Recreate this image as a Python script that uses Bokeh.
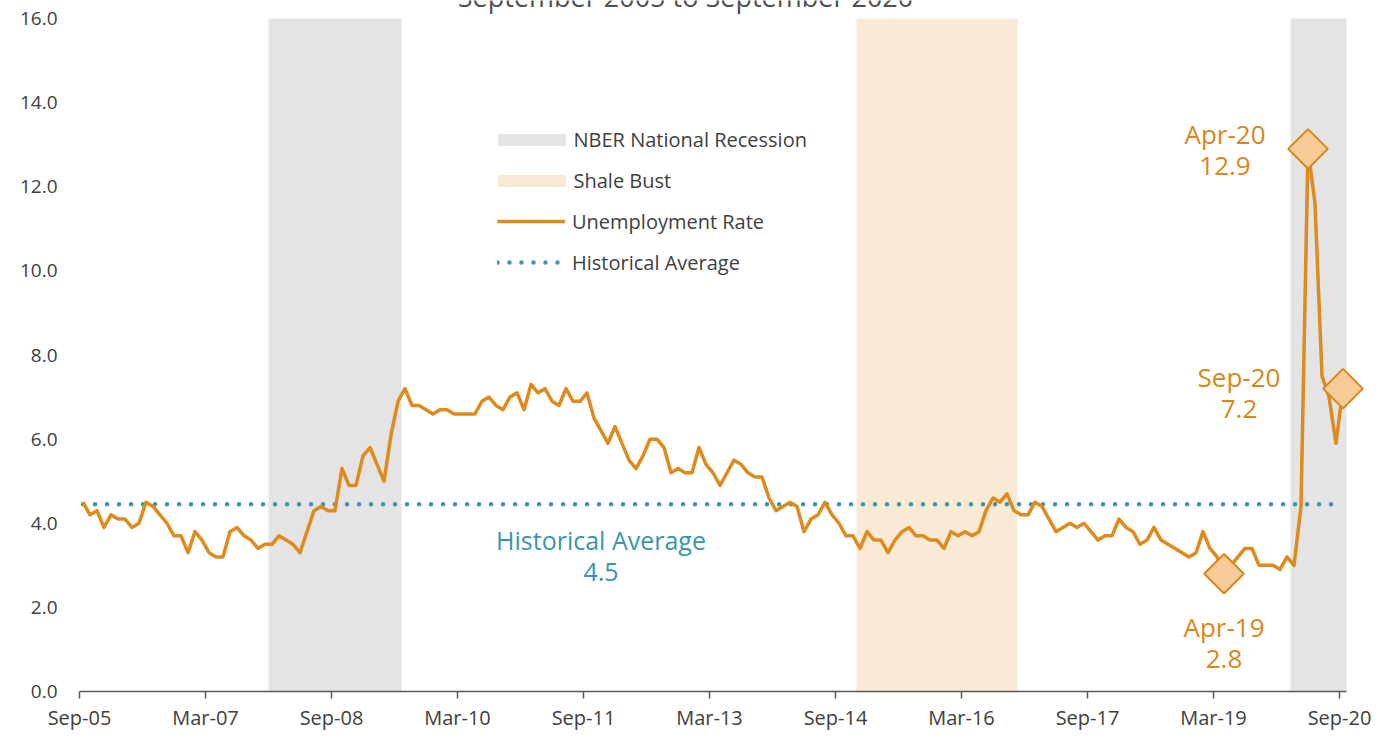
import numpy as np
import pandas as pd
from bokeh.plotting import figure
from bokeh.models import Range1d, FixedTicker, Legend, LegendItem, Label, PrintfTickFormatter
from bokeh.core.properties import value
from bokeh.embed import file_html
from bokeh.resources import INLINE

# ---------------- data ----------------
months = pd.date_range("2005-09-01", "2020-09-01", freq="MS").strftime("%b-%y").tolist()

rate = [
    4.5, 4.2, 4.3, 3.9, 4.2, 4.1, 4.1, 3.9, 4.0, 4.5, 4.4, 4.2,   # Sep-05 .. Aug-06
    4.0, 3.7, 3.7, 3.3, 3.8, 3.6, 3.3, 3.2, 3.2, 3.8, 3.9, 3.7,   # Sep-06 .. Aug-07
    3.6, 3.4, 3.5, 3.5, 3.7, 3.6, 3.5, 3.3, 3.8, 4.3, 4.4, 4.3,   # Sep-07 .. Aug-08
    4.3, 5.3, 4.9, 4.9, 5.6, 5.8, 5.4, 5.0, 6.1, 6.9, 7.2, 6.8,   # Sep-08 .. Aug-09
    6.8, 6.7, 6.6, 6.7, 6.7, 6.6, 6.6, 6.6, 6.6, 6.9, 7.0, 6.8,   # Sep-09 .. Aug-10
    6.7, 7.0, 7.1, 6.7, 7.3, 7.1, 7.2, 6.9, 6.8, 7.2, 6.9, 6.9,   # Sep-10 .. Aug-11
    7.1, 6.5, 6.2, 5.9, 6.3, 5.9, 5.5, 5.3, 5.6, 6.0, 6.0, 5.8,   # Sep-11 .. Aug-12
    5.2, 5.3, 5.2, 5.2, 5.8, 5.4, 5.2, 4.9, 5.2, 5.5, 5.4, 5.2,   # Sep-12 .. Aug-13
    5.1, 5.1, 4.6, 4.3, 4.4, 4.5, 4.4, 3.8, 4.1, 4.2, 4.5, 4.2,   # Sep-13 .. Aug-14
    4.0, 3.7, 3.7, 3.4, 3.8, 3.6, 3.6, 3.3, 3.6, 3.8, 3.9, 3.7,   # Sep-14 .. Aug-15
    3.7, 3.6, 3.6, 3.4, 3.8, 3.7, 3.8, 3.7, 3.8, 4.3, 4.6, 4.5,   # Sep-15 .. Aug-16
    4.7, 4.3, 4.2, 4.2, 4.5, 4.4, 4.1, 3.8, 3.9, 4.0, 3.9, 4.0,   # Sep-16 .. Aug-17
    3.8, 3.6, 3.7, 3.7, 4.1, 3.9, 3.8, 3.5, 3.6, 3.9, 3.6, 3.5,   # Sep-17 .. Aug-18
    3.4, 3.3, 3.2, 3.3, 3.8, 3.4, 3.2, 2.8, 3.0, 3.2, 3.4, 3.4,   # Sep-18 .. Aug-19
    3.0, 3.0, 3.0, 2.9, 3.2, 3.0, 4.4, 12.9, 11.6, 7.5, 7.0, 5.9, # Sep-19 .. Aug-20
    7.2,                                                          # Sep-20
]
hist_avg = 4.45

nber_start = ["Dec-07", "Feb-20"]
nber_end = ["Jun-09", "Sep-20"]
shale_start = ["Dec-14"]
shale_end = ["Oct-16"]

x_tick_labels = ["Sep-05", "Mar-07", "Sep-08", "Mar-10", "Sep-11", "Mar-13",
                 "Sep-14", "Mar-16", "Sep-17", "Mar-19", "Sep-20"]
y_ticks = [0, 2, 4, 6, 8, 10, 12, 14, 16]

highlight = ["Apr-19", "Apr-20", "Sep-20"]
avg_label_month = "Nov-11"

title_text = "September 2005 to September 2020"

# ---------------- styles ----------------
FONT = "Open Sans"
ORANGE = "#DE8A1C"
ORANGE_TXT = "#D9861A"
TEAL = "#3A95AE"
GRAY_TXT = "#404040"

idx = {m: i for i, m in enumerate(months)}
xs = np.arange(len(months)) + 0.5
n_months = len(months)

# layout: 7 px per month (axis ends at month 181), 0..16 spans 673 px,
# and the frame reaches the top edge so the (cropped) title can sit above the 16.0 line
H, BOTTOM, LEFT, RIGHT = 737, 46, 79, 31
frame_h = H - BOTTOM
y_top = y_ticks[-1] * frame_h / 673.0

p = figure(width=1398, height=H,
           x_range=Range1d(0, n_months + 3), y_range=Range1d(y_ticks[0], y_top),
           output_backend="svg", toolbar_location=None,
           min_border_left=LEFT, min_border_right=RIGHT, min_border_top=0, min_border_bottom=BOTTOM)
p.outline_line_color = None
p.grid.visible = False
p.background_fill_color = "white"
p.border_fill_color = "white"

# bands
nber = p.quad(left=[idx[m] for m in nber_start], right=[idx[m] + 1 for m in nber_end],
              bottom=y_ticks[0], top=y_ticks[-1], fill_color="#E4E4E4", line_color=None)
shale = p.quad(left=[idx[m] for m in shale_start], right=[idx[m] + 1 for m in shale_end],
               bottom=y_ticks[0], top=y_ticks[-1], fill_color="#F9EAD6", line_color=None)

# historical average
avg = p.line(x=[xs[0], xs[-1]], y=[hist_avg, hist_avg], line_color=TEAL, line_width=4.5,
             line_dash="0 12", line_cap="round")

# unemployment line
ur = p.line(x=xs, y=rate, line_color=ORANGE, line_width=3.5, line_join="round")

# highlighted points
hx = [xs[idx[m]] for m in highlight]
hy = [rate[idx[m]] for m in highlight]
p.scatter(x=hx, y=hy, marker="square", angle=np.pi / 4, size=28,
          fill_color="#F5CB98", line_color=ORANGE_TXT, line_width=2)

lab_dx = [0, -83, -104]
lab_dy1 = [53, -15, -12]
lab_dy2 = [85, 17, 20]
p.text(x=hx, y=hy, text=highlight, x_offset=lab_dx, y_offset=lab_dy1,
       text_align="center", text_baseline="middle", text_font=value(FONT),
       text_font_size="26px", text_color=ORANGE_TXT)
p.text(x=hx, y=hy, text=[f"{v:.1f}" for v in hy], x_offset=lab_dx, y_offset=lab_dy2,
       text_align="center", text_baseline="middle", text_font=value(FONT),
       text_font_size="26px", text_color=ORANGE_TXT)

ax = xs[idx[avg_label_month]]
p.text(x=[ax], y=[hist_avg], text=["Historical Average"], y_offset=[36],
       text_align="center", text_baseline="middle", text_font=value(FONT),
       text_font_size="25px", text_color=TEAL)
p.text(x=[ax], y=[hist_avg], text=[f"{hist_avg:.1f}"], y_offset=[68],
       text_align="center", text_baseline="middle", text_font=value(FONT),
       text_font_size="25px", text_color=TEAL)

# axes
xa = p.xaxis[0]
xa.bounds = (0, n_months)
xa.ticker = FixedTicker(ticks=[idx[m] for m in x_tick_labels])
xa.major_label_overrides = {idx[m]: m for m in x_tick_labels}
xa.minor_tick_line_color = None
xa.major_tick_in = 0
xa.major_tick_out = 7
xa.major_tick_line_color = "#595959"
xa.major_tick_line_width = 1.5
xa.axis_line_color = "#595959"
xa.axis_line_width = 1.5
xa.major_label_standoff = 5
xa.major_label_text_font = FONT
xa.major_label_text_font_size = "20px"
xa.major_label_text_color = GRAY_TXT

ya = p.yaxis[0]
ya.ticker = FixedTicker(ticks=y_ticks)
ya.formatter = PrintfTickFormatter(format="%.1f")
ya.axis_line_color = None
ya.major_tick_line_color = None
ya.minor_tick_line_color = None
ya.major_tick_in = 0
ya.major_tick_out = 0
ya.major_label_standoff = 22
ya.major_label_text_font = FONT
ya.major_label_text_font_size = "19px"
ya.major_label_text_color = GRAY_TXT


def make_legend(items, loc, glyph_w, glyph_h, standoff):
    lg = Legend(items=items, location=loc)
    lg.padding = 0
    lg.margin = 0
    lg.border_line_color = None
    lg.background_fill_alpha = 0
    lg.glyph_width = glyph_w
    lg.glyph_height = glyph_h
    lg.label_height = 22
    lg.spacing = 14
    lg.label_standoff = standoff
    lg.label_text_font = FONT
    lg.label_text_font_size = "20px"
    lg.label_text_color = GRAY_TXT
    return lg


p.add_layout(make_legend([
    LegendItem(label="NBER National Recession", renderers=[nber]),
    LegendItem(label="Shale Bust", renderers=[shale]),
], (409.5, 497.5), 85, 15, 0))
p.add_layout(make_legend([
    LegendItem(label="Unemployment Rate", renderers=[ur]),
    LegendItem(label="Historical Average", renderers=[avg]),
], (418, 415.5), 68, 12, 7))

# title, cropped at the top edge as in the source picture
p.add_layout(Label(x=606, y=frame_h + 4, x_units="screen", y_units="screen", text=title_text,
                   text_align="center", text_baseline="alphabetic", text_font=FONT,
                   text_font_size="27px", text_color="#505050"))

open("out.html", "w").write(file_html(p, INLINE))
